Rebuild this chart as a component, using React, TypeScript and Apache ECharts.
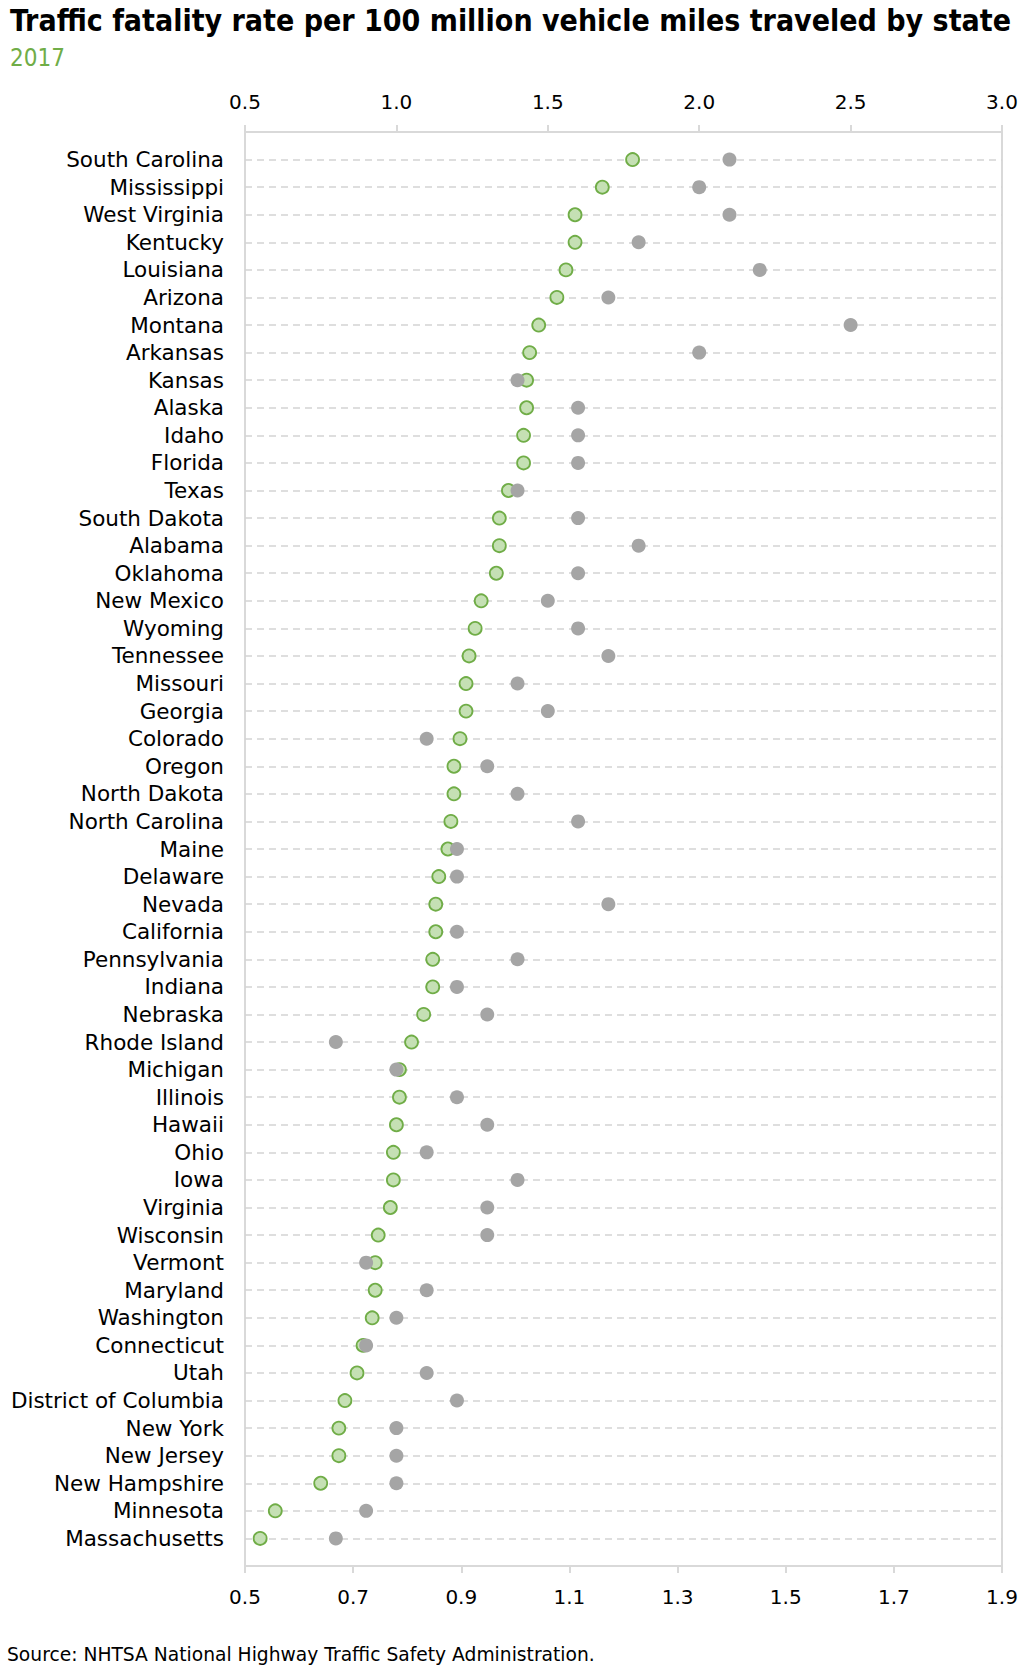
import React, { useEffect, useRef } from "react";
import * as echarts from "echarts";

const states = [
  "South Carolina", "Mississippi", "West Virginia", "Kentucky", "Louisiana", "Arizona", "Montana",
  "Arkansas", "Kansas", "Alaska", "Idaho", "Florida", "Texas", "South Dakota", "Alabama", "Oklahoma",
  "New Mexico", "Wyoming", "Tennessee", "Missouri", "Georgia", "Colorado", "Oregon", "North Dakota",
  "North Carolina", "Maine", "Delaware", "Nevada", "California", "Pennsylvania", "Indiana", "Nebraska",
  "Rhode Island", "Michigan", "Illinois", "Hawaii", "Ohio", "Iowa", "Virginia", "Wisconsin", "Vermont",
  "Maryland", "Washington", "Connecticut", "Utah", "District of Columbia", "New York", "New Jersey",
  "New Hampshire", "Minnesota", "Massachusetts",
];

const rate2017 = [
  1.78, 1.68, 1.59, 1.59, 1.56, 1.53, 1.47, 1.44, 1.43, 1.43, 1.42, 1.42, 1.37, 1.34, 1.34, 1.33,
  1.28, 1.26, 1.24, 1.23, 1.23, 1.21, 1.19, 1.19, 1.18, 1.17, 1.14, 1.13, 1.13, 1.12, 1.12, 1.09,
  1.05, 1.01, 1.01, 1.0, 0.99, 0.99, 0.98, 0.94, 0.93, 0.93, 0.92, 0.89, 0.87, 0.83, 0.81, 0.81,
  0.75, 0.6, 0.55,
];

const rateOther = [
  2.1, 2.0, 2.1, 1.8, 2.2, 1.7, 2.5, 2.0, 1.4, 1.6, 1.6, 1.6, 1.4, 1.6, 1.8, 1.6, 1.5, 1.6, 1.7,
  1.4, 1.5, 1.1, 1.3, 1.4, 1.6, 1.2, 1.2, 1.7, 1.2, 1.4, 1.2, 1.3, 0.8, 1.0, 1.2, 1.3, 1.1, 1.4,
  1.3, 1.3, 0.9, 1.1, 1.0, 0.9, 1.1, 1.2, 1.0, 1.0, 1.0, 0.9, 0.8,
];

const titleText = "Traffic fatality rate per 100 million vehicle miles traveled by state";
const subtitleText = "2017";
const sourceText = "Source: NHTSA National Highway Traffic Safety Administration.";

const FONT_C = '"DejaVu Sans Condensed", "DejaVu Sans", sans-serif';
const FONT = '"DejaVu Sans", sans-serif';

export default function App() {
  const ref = useRef<HTMLDivElement>(null);

  useEffect(() => {
    document.body.style.margin = "0";
    if (!ref.current) return;
    const chart = echarts.init(ref.current, undefined, { renderer: "svg" });
    const categories = ["", ...states, " "];
    const lastIdx = categories.length - 1;

    chart.setOption({
      animation: false,
      backgroundColor: "#ffffff",
      textStyle: { fontFamily: FONT },
      grid: {
        left: 245,
        right: 31,
        top: 132,
        bottom: 111,
        containLabel: false,
        show: true,
        borderColor: "#d9d9d9",
        borderWidth: 2,
      },
      xAxis: [
        {
          type: "value",
          position: "top",
          min: 0.5,
          max: 3.0,
          interval: 0.5,
          axisLine: { show: true, lineStyle: { color: "#d9d9d9", width: 2 } },
          axisTick: { show: true, length: 7, lineStyle: { color: "#d9d9d9", width: 2 } },
          splitLine: { show: false },
          axisLabel: {
            margin: 20,
            fontSize: 20,
            lineHeight: 20,
            color: "#000000",
            fontFamily: FONT,
            formatter: (v: number) => v.toFixed(1),
          },
        },
        {
          type: "value",
          position: "bottom",
          min: 0.5,
          max: 1.9,
          interval: 0.2,
          axisLine: { show: true, lineStyle: { color: "#d9d9d9", width: 2 } },
          axisTick: { show: true, length: 7, lineStyle: { color: "#d9d9d9", width: 2 } },
          splitLine: { show: false },
          axisLabel: {
            margin: 21,
            fontSize: 20,
            lineHeight: 20,
            color: "#000000",
            fontFamily: FONT,
            formatter: (v: number) => v.toFixed(1),
          },
        },
      ],
      yAxis: {
        type: "category",
        inverse: true,
        boundaryGap: false,
        data: categories,
        axisLine: { show: false },
        axisTick: { show: false },
        axisLabel: {
          interval: 0,
          margin: 21,
          fontSize: 21.5,
          color: "#000000",
          fontFamily: FONT,
        },
        splitLine: {
          show: true,
          interval: (i: number) => i > 0 && i < lastIdx,
          lineStyle: { color: "#d4d4d4", width: 1.5, type: [7, 5] },
        },
      },
      series: [
        {
          name: "2017",
          type: "scatter",
          xAxisIndex: 0,
          yAxisIndex: 0,
          symbol: "circle",
          symbolSize: 13,
          itemStyle: { color: "#c5e0b4", borderColor: "#70ad47", borderWidth: 1.8, opacity: 1 },
          data: states.map((s, i) => [rate2017[i], i + 1]),
        },
        {
          name: "other",
          type: "scatter",
          xAxisIndex: 0,
          yAxisIndex: 0,
          symbol: "circle",
          symbolSize: 14,
          itemStyle: { color: "#a5a5a5", opacity: 1 },
          data: states.map((s, i) => [rateOther[i], i + 1]),
        },
      ],
      graphic: [
        {
          type: "text",
          left: 10,
          top: 5,
          style: {
            text: titleText,
            font: `bold 30px ${FONT_C}`,
            fill: "#000000",
          },
        },
        {
          type: "text",
          left: 10,
          top: 46,
          style: {
            text: subtitleText,
            font: `24px ${FONT_C}`,
            fill: "#70ad47",
          },
        },
        {
          type: "text",
          left: 7,
          top: 1645,
          style: {
            text: sourceText,
            font: `18.7px ${FONT}`,
            fill: "#000000",
          },
        },
      ],
    });

    return () => chart.dispose();
  }, []);

  return <div ref={ref} style={{ width: 1033, height: 1677 }} />;
}
